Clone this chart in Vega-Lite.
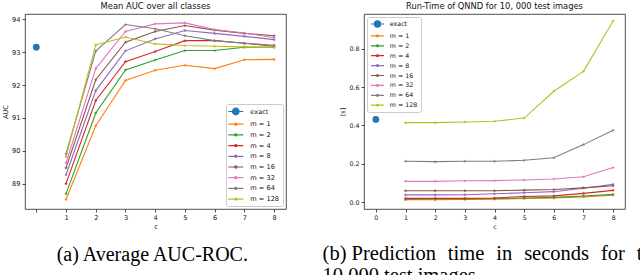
{
  "$schema": "https://vega.github.io/schema/vega-lite/v6.json",
  "padding": {"left": 2, "top": 1, "right": 0, "bottom": 0},
  "datasets": {
    "auc": [
      {"s": "exact", "c": 0, "v": 93.15},
      {"s": "m = 1", "c": 1, "v": 88.52}, {"s": "m = 1", "c": 2, "v": 90.76}, {"s": "m = 1", "c": 3, "v": 92.14}, {"s": "m = 1", "c": 4, "v": 92.45}, {"s": "m = 1", "c": 5, "v": 92.6}, {"s": "m = 1", "c": 6, "v": 92.5}, {"s": "m = 1", "c": 7, "v": 92.77}, {"s": "m = 1", "c": 8, "v": 92.78},
      {"s": "m = 2", "c": 1, "v": 88.69}, {"s": "m = 2", "c": 2, "v": 91.15}, {"s": "m = 2", "c": 3, "v": 92.46}, {"s": "m = 2", "c": 4, "v": 92.76}, {"s": "m = 2", "c": 5, "v": 93.05}, {"s": "m = 2", "c": 6, "v": 93.05}, {"s": "m = 2", "c": 7, "v": 93.15}, {"s": "m = 2", "c": 8, "v": 93.15},
      {"s": "m = 4", "c": 1, "v": 89.0}, {"s": "m = 4", "c": 2, "v": 91.53}, {"s": "m = 4", "c": 3, "v": 92.71}, {"s": "m = 4", "c": 4, "v": 93.02}, {"s": "m = 4", "c": 5, "v": 93.35}, {"s": "m = 4", "c": 6, "v": 93.35}, {"s": "m = 4", "c": 7, "v": 93.27}, {"s": "m = 4", "c": 8, "v": 93.18},
      {"s": "m = 8", "c": 1, "v": 89.27}, {"s": "m = 8", "c": 2, "v": 91.83}, {"s": "m = 8", "c": 3, "v": 93.04}, {"s": "m = 8", "c": 4, "v": 93.4}, {"s": "m = 8", "c": 5, "v": 93.66}, {"s": "m = 8", "c": 6, "v": 93.57}, {"s": "m = 8", "c": 7, "v": 93.48}, {"s": "m = 8", "c": 8, "v": 93.38},
      {"s": "m = 16", "c": 1, "v": 89.48}, {"s": "m = 16", "c": 2, "v": 92.16}, {"s": "m = 16", "c": 3, "v": 93.3}, {"s": "m = 16", "c": 4, "v": 93.63}, {"s": "m = 16", "c": 5, "v": 93.81}, {"s": "m = 16", "c": 6, "v": 93.67}, {"s": "m = 16", "c": 7, "v": 93.57}, {"s": "m = 16", "c": 8, "v": 93.5},
      {"s": "m = 32", "c": 1, "v": 89.63}, {"s": "m = 32", "c": 2, "v": 92.5}, {"s": "m = 32", "c": 3, "v": 93.63}, {"s": "m = 32", "c": 4, "v": 93.86}, {"s": "m = 32", "c": 5, "v": 93.89}, {"s": "m = 32", "c": 6, "v": 93.69}, {"s": "m = 32", "c": 7, "v": 93.58}, {"s": "m = 32", "c": 8, "v": 93.44},
      {"s": "m = 64", "c": 1, "v": 89.91}, {"s": "m = 64", "c": 2, "v": 93.03}, {"s": "m = 64", "c": 3, "v": 93.84}, {"s": "m = 64", "c": 4, "v": 93.71}, {"s": "m = 64", "c": 5, "v": 93.5}, {"s": "m = 64", "c": 6, "v": 93.35}, {"s": "m = 64", "c": 7, "v": 93.27}, {"s": "m = 64", "c": 8, "v": 93.21},
      {"s": "m = 128", "c": 1, "v": 89.82}, {"s": "m = 128", "c": 2, "v": 93.22}, {"s": "m = 128", "c": 3, "v": 93.46}, {"s": "m = 128", "c": 4, "v": 93.25}, {"s": "m = 128", "c": 5, "v": 93.2}, {"s": "m = 128", "c": 6, "v": 93.18}, {"s": "m = 128", "c": 7, "v": 93.16}, {"s": "m = 128", "c": 8, "v": 93.15}
    ],
    "time": [
      {"s": "exact", "c": 0, "v": 0.432},
      {"s": "m = 1", "c": 1, "v": 0.012}, {"s": "m = 1", "c": 2, "v": 0.012}, {"s": "m = 1", "c": 3, "v": 0.013}, {"s": "m = 1", "c": 4, "v": 0.014}, {"s": "m = 1", "c": 5, "v": 0.018}, {"s": "m = 1", "c": 6, "v": 0.021}, {"s": "m = 1", "c": 7, "v": 0.027}, {"s": "m = 1", "c": 8, "v": 0.035},
      {"s": "m = 2", "c": 1, "v": 0.015}, {"s": "m = 2", "c": 2, "v": 0.016}, {"s": "m = 2", "c": 3, "v": 0.016}, {"s": "m = 2", "c": 4, "v": 0.018}, {"s": "m = 2", "c": 5, "v": 0.021}, {"s": "m = 2", "c": 6, "v": 0.024}, {"s": "m = 2", "c": 7, "v": 0.031}, {"s": "m = 2", "c": 8, "v": 0.04},
      {"s": "m = 4", "c": 1, "v": 0.019}, {"s": "m = 4", "c": 2, "v": 0.019}, {"s": "m = 4", "c": 3, "v": 0.019}, {"s": "m = 4", "c": 4, "v": 0.021}, {"s": "m = 4", "c": 5, "v": 0.029}, {"s": "m = 4", "c": 6, "v": 0.032}, {"s": "m = 4", "c": 7, "v": 0.045}, {"s": "m = 4", "c": 8, "v": 0.061},
      {"s": "m = 8", "c": 1, "v": 0.037}, {"s": "m = 8", "c": 2, "v": 0.037}, {"s": "m = 8", "c": 3, "v": 0.038}, {"s": "m = 8", "c": 4, "v": 0.043}, {"s": "m = 8", "c": 5, "v": 0.048}, {"s": "m = 8", "c": 6, "v": 0.054}, {"s": "m = 8", "c": 7, "v": 0.072}, {"s": "m = 8", "c": 8, "v": 0.092},
      {"s": "m = 16", "c": 1, "v": 0.059}, {"s": "m = 16", "c": 2, "v": 0.059}, {"s": "m = 16", "c": 3, "v": 0.059}, {"s": "m = 16", "c": 4, "v": 0.059}, {"s": "m = 16", "c": 5, "v": 0.062}, {"s": "m = 16", "c": 6, "v": 0.065}, {"s": "m = 16", "c": 7, "v": 0.074}, {"s": "m = 16", "c": 8, "v": 0.085},
      {"s": "m = 32", "c": 1, "v": 0.108}, {"s": "m = 32", "c": 2, "v": 0.108}, {"s": "m = 32", "c": 3, "v": 0.111}, {"s": "m = 32", "c": 4, "v": 0.112}, {"s": "m = 32", "c": 5, "v": 0.115}, {"s": "m = 32", "c": 6, "v": 0.12}, {"s": "m = 32", "c": 7, "v": 0.132}, {"s": "m = 32", "c": 8, "v": 0.18},
      {"s": "m = 64", "c": 1, "v": 0.213}, {"s": "m = 64", "c": 2, "v": 0.211}, {"s": "m = 64", "c": 3, "v": 0.213}, {"s": "m = 64", "c": 4, "v": 0.213}, {"s": "m = 64", "c": 5, "v": 0.218}, {"s": "m = 64", "c": 6, "v": 0.231}, {"s": "m = 64", "c": 7, "v": 0.3}, {"s": "m = 64", "c": 8, "v": 0.375},
      {"s": "m = 128", "c": 1, "v": 0.415}, {"s": "m = 128", "c": 2, "v": 0.415}, {"s": "m = 128", "c": 3, "v": 0.418}, {"s": "m = 128", "c": 4, "v": 0.422}, {"s": "m = 128", "c": 5, "v": 0.439}, {"s": "m = 128", "c": 6, "v": 0.579}, {"s": "m = 128", "c": 7, "v": 0.683}, {"s": "m = 128", "c": 8, "v": 0.946}
    ]
  },
  "config": {
    "view": {"stroke": "#222", "strokeWidth": 0.8},
    "axis": {"domain": false, "grid": false, "tickColor": "#222", "tickSize": 3, "tickWidth": 0.8, "labelFont": "DejaVu Sans", "labelFontSize": 6.6, "labelColor": "#111", "titleFont": "DejaVu Sans", "titleFontSize": 6.6, "titleFontWeight": "normal", "titleColor": "#111", "labelPadding": 2, "titlePadding": 3},
    "title": {"font": "DejaVu Sans", "fontSize": 8.4, "fontWeight": "normal", "color": "#111", "offset": 4}
  },
  "resolve": {"legend": {"color": "independent"}},
  "spacing": 35,
  "hconcat": [
    {
      "resolve": {"legend": {"color": "independent"}},
      "title": {"text": "(a) Average AUC-ROC.", "orient": "bottom", "anchor": "middle", "font": "Liberation Serif", "fontSize": 20, "fontWeight": "normal", "color": "#000", "offset": 14, "dx": 8},
      "vconcat": [
        {
          "width": 261, "height": 195,
          "title": {"text": "Mean AUC over all classes"},
          "data": {"name": "auc"},
          "encoding": {
            "x": {"field": "c", "type": "quantitative", "scale": {"domain": [-0.38, 8.4], "nice": false, "zero": false}, "axis": {"values": [0, 1, 2, 3, 4, 5, 6, 7, 8], "labelExpr": "datum.value == 0 ? '' : datum.label", "title": "c"}},
            "y": {"field": "v", "type": "quantitative", "scale": {"domain": [88.23, 94.16], "nice": false, "zero": false}, "axis": {"values": [89, 90, 91, 92, 93, 94], "title": "AUC"}},
            "color": {"field": "s", "type": "nominal",
              "scale": {"domain": ["exact", "m = 1", "m = 2", "m = 4", "m = 8", "m = 16", "m = 32", "m = 64", "m = 128"], "range": ["#1f77b4", "#ff7f0e", "#2ca02c", "#d62728", "#9467bd", "#8c564b", "#e377c2", "#7f7f7f", "#bcbd22"]},
              "legend": {"title": null, "orient": "bottom-right", "offset": 3, "padding": 3, "fillColor": "rgba(255,255,255,0.85)", "strokeColor": "#cccccc", "cornerRadius": 2, "labelFont": "DejaVu Sans", "labelFontSize": 6.6, "labelColor": "#111", "symbolSize": 56, "symbolOffset": 2.3, "labelOffset": 10, "rowPadding": 1.7,
                "encode": {"symbols": {"update": {
                  "shape": {"signal": "datum.value == 'exact' ? 'M-2,0H2M0.88,0A0.88,0.88,0,1,1,-0.88,0A0.88,0.88,0,1,1,0.88,0Z' : 'M-2,0H2M0.3,0A0.3,0.3,0,1,1,-0.3,0A0.3,0.3,0,1,1,0.3,0Z'"},
                  "fill": {"scale": "color", "field": "value"},
                  "stroke": {"scale": "color", "field": "value"},
                  "strokeWidth": {"value": 1.2},
                  "opacity": {"value": 1}}}}}}
          },
          "layer": [
            {"transform": [{"filter": "datum.s != 'exact'"}], "mark": {"type": "line", "strokeWidth": 1.1}},
            {"transform": [{"filter": "datum.s != 'exact'"}], "mark": {"type": "point", "filled": true, "opacity": 1, "size": 14, "shape": "M0,-1L0.24,-0.33L0.95,-0.31L0.39,0.12L0.59,0.81L0,0.4L-0.59,0.81L-0.39,0.12L-0.95,-0.31L-0.24,-0.33Z"}},
            {"transform": [{"filter": "datum.s == 'exact'"}], "mark": {"type": "point", "filled": true, "opacity": 1, "size": 45, "shape": "circle"}}
          ]
        }
      ]
    },
    {
      "resolve": {"legend": {"color": "independent"}},
      "title": {"text": ["(b)\u00a0Prediction\u00a0\u00a0\u200atime\u00a0\u00a0\u200ain\u00a0\u00a0\u200aseconds\u00a0\u00a0\u200afor\u00a0\u00a0\u200athe", "10,000 test images."], "orient": "bottom", "anchor": "start", "font": "Liberation Serif", "fontSize": 20.5, "fontWeight": "normal", "color": "#000", "offset": 14, "lineHeight": 22, "dx": -17},
      "vconcat": [
        {
          "width": 261, "height": 195,
          "title": {"text": "Run-Time of QNND for 10, 000 test images", "fontSize": 8.3},
          "data": {"name": "time"},
          "encoding": {
            "x": {"field": "c", "type": "quantitative", "scale": {"domain": [-0.4, 8.4], "nice": false, "zero": false}, "axis": {"values": [0, 1, 2, 3, 4, 5, 6, 7, 8], "title": "c", "labelFontSize": 6.3, "titleFontSize": 6.3}},
            "y": {"field": "v", "type": "quantitative", "scale": {"domain": [-0.0366, 0.983], "nice": false, "zero": false}, "axis": {"values": [0, 0.2, 0.4, 0.6, 0.8], "format": ".1f", "title": "[s]", "labelFontSize": 6.3, "titleFontSize": 6.3}},
            "color": {"field": "s", "type": "nominal",
              "scale": {"domain": ["exact", "m = 1", "m = 2", "m = 4", "m = 8", "m = 16", "m = 32", "m = 64", "m = 128"], "range": ["#1f77b4", "#ff7f0e", "#2ca02c", "#d62728", "#9467bd", "#8c564b", "#e377c2", "#7f7f7f", "#bcbd22"]},
              "legend": {"title": null, "orient": "top-left", "offset": 3, "padding": 3, "fillColor": "rgba(255,255,255,0.85)", "strokeColor": "#cccccc", "cornerRadius": 2, "labelFont": "DejaVu Sans", "labelFontSize": 6.3, "labelColor": "#111", "symbolSize": 42, "symbolOffset": 3.5, "labelOffset": 8.3, "rowPadding": 1.9,
                "encode": {"symbols": {"update": {
                  "shape": {"signal": "datum.value == 'exact' ? 'M-2,0H2M0.95,0A0.95,0.95,0,1,1,-0.95,0A0.95,0.95,0,1,1,0.95,0Z' : 'M-2,0H2M0.3,0A0.3,0.3,0,1,1,-0.3,0A0.3,0.3,0,1,1,0.3,0Z'"},
                  "fill": {"scale": "color", "field": "value"},
                  "stroke": {"scale": "color", "field": "value"},
                  "strokeWidth": {"value": 1.2},
                  "opacity": {"value": 1}}}}}}
          },
          "layer": [
            {"transform": [{"filter": "datum.s != 'exact'"}], "mark": {"type": "line", "strokeWidth": 1.1}},
            {"transform": [{"filter": "datum.s != 'exact'"}], "mark": {"type": "point", "filled": true, "opacity": 1, "size": 14, "shape": "M0,-1L0.24,-0.33L0.95,-0.31L0.39,0.12L0.59,0.81L0,0.4L-0.59,0.81L-0.39,0.12L-0.95,-0.31L-0.24,-0.33Z"}},
            {"transform": [{"filter": "datum.s == 'exact'"}], "mark": {"type": "point", "filled": true, "opacity": 1, "size": 45, "shape": "circle"}}
          ]
        }
      ]
    }
  ]
}
